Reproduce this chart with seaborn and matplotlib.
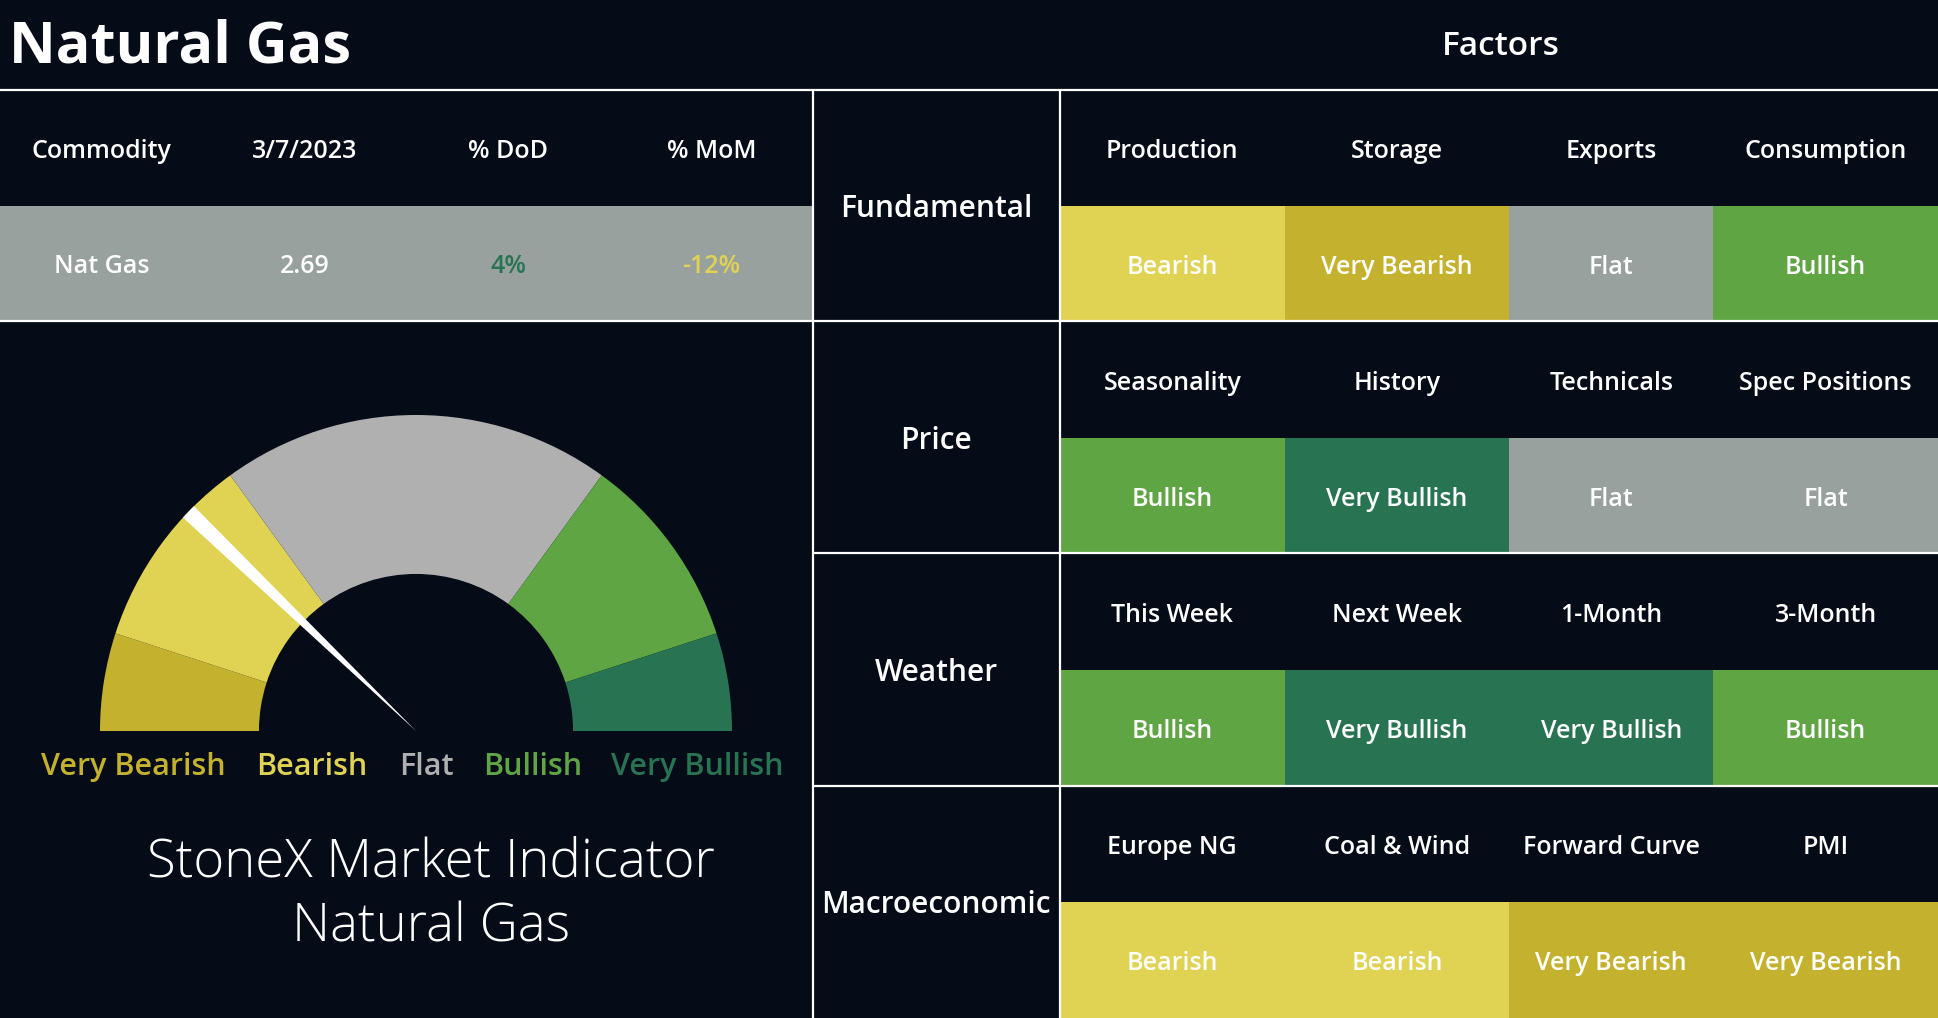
import numpy as np
import matplotlib.pyplot as plt
from matplotlib.colors import ListedColormap
import seaborn as sns

# ---- data ----
commodity_cols = ['Commodity', '3/7/2023', '% DoD', '% MoM']
commodity_vals = ['Nat Gas', '2.69', '4%', '-12%']

factor_groups = ['Fundamental', 'Price', 'Weather', 'Macroeconomic']
factor_names = [
    ['Production', 'Storage', 'Exports', 'Consumption'],
    ['Seasonality', 'History', 'Technicals', 'Spec Positions'],
    ['This Week', 'Next Week', '1-Month', '3-Month'],
    ['Europe NG', 'Coal & Wind', 'Forward Curve', 'PMI'],
]
factor_calls = [
    ['Bearish', 'Very Bearish', 'Flat', 'Bullish'],
    ['Bullish', 'Very Bullish', 'Flat', 'Flat'],
    ['Bullish', 'Very Bullish', 'Very Bullish', 'Bullish'],
    ['Bearish', 'Bearish', 'Very Bearish', 'Very Bearish'],
]

levels = ['Very Bearish', 'Bearish', 'Flat', 'Bullish', 'Very Bullish']
gauge_share = [10, 20, 40, 20, 10]   # upper half of the dial = 100
needle_pos = 24.4                    # 0..100 from the very bearish end
needle_width = 1.6

# ---- style ----
bg = '#050c18'
level_colors = ['#c4b22e', '#e0d354', '#98a19e', '#5fa544', '#287352']
gauge_colors = ['#c4b22e', '#e0d354', '#b0b0b0', '#5fa544', '#287352']
value_colors = ['white', 'white', '#287352', '#e0d354']
col_span = [11, 11, 10, 11]   # relative widths of the factor columns

sns.set_theme(style='dark')
plt.rcParams['font.family'] = ['Open Sans', 'DejaVu Sans']

W, H = 1938, 1018
fig = plt.figure(figsize=(W / 100, H / 100), dpi=100, facecolor=bg)


def box(x0, y0, x1, y1):
    # pixel box (top-left origin) -> figure fraction rect
    return [x0 / W, (H - y1) / H, (x1 - x0) / W, (y1 - y0) / H]


cell_font = dict(color='white', fontsize=18, fontweight='semibold', ha='center', va='center')
dy = 0.03   # small downward nudge of text inside cells (row units)

# factors grid: header row (empty) + call row for every group
code = {lv: i for i, lv in enumerate(levels)}
grid = np.full((8, 4), np.nan)
for i, calls in enumerate(factor_calls):
    for j, c in enumerate(calls):
        grid[2 * i + 1, j] = code[c]
grid = np.repeat(grid, col_span, axis=1)
edges = np.concatenate([[0], np.cumsum(col_span)])
centers = (edges[:-1] + edges[1:]) / 2

ax_f = fig.add_axes(box(1060, 90, W, H))
ax_f.set_facecolor(bg)
sns.heatmap(grid, ax=ax_f, cmap=ListedColormap(level_colors), vmin=-0.5, vmax=4.5,
            cbar=False, linewidths=0)
ax_f.set_xticks([])
ax_f.set_yticks([])
for i in range(len(factor_groups)):
    for j in range(4):
        ax_f.text(centers[j], 2 * i + 0.5 + dy, factor_names[i][j], **cell_font)
        ax_f.text(centers[j], 2 * i + 1.5 + dy, factor_calls[i][j], **cell_font)

# commodity row
ax_c = fig.add_axes(box(0, 206, 813, 321))
sns.heatmap(np.full((1, 4), code['Flat']), ax=ax_c, cmap=ListedColormap(level_colors),
            vmin=-0.5, vmax=4.5, cbar=False, linewidths=0)
ax_c.set_xticks([])
ax_c.set_yticks([])
for j, v in enumerate(commodity_vals):
    ax_c.text(j + 0.5, 0.5 + dy, v, **{**cell_font, 'color': value_colors[j]})

# gauge
ax_g = fig.add_axes(box(416 - 320, 731 - 320, 416 + 320, 731 + 320))
ax_g.set_facecolor('none')
R = 316 / 320
ax_g.pie(gauge_share + [sum(gauge_share)], colors=gauge_colors + ['none'],
         startangle=180, counterclock=False, radius=R,
         wedgeprops=dict(width=R * 0.503, linewidth=0))
rest = 2 * sum(gauge_share) - needle_pos - needle_width / 2
ax_g.pie([needle_pos - needle_width / 2, needle_width, rest],
         colors=['none', 'white', 'none'], startangle=180, counterclock=False,
         radius=R, wedgeprops=dict(linewidth=0))
ax_g.set_xlim(-1, 1)
ax_g.set_ylim(-1, 1)
ax_g.axis('off')

# overlay: frame lines and free text
ov = fig.add_axes([0, 0, 1, 1])
ov.set_facecolor('none')
ov.set_xlim(0, W)
ov.set_ylim(H, 0)
ov.axis('off')

lw = 1.6
ov.hlines(90, 0, W, color='white', lw=lw)
ov.hlines(321, 0, 813, color='white', lw=lw)
ov.hlines([321, 553, 786], 813, W, color='white', lw=lw)
ov.vlines([813, 1060], 90, H, color='white', lw=lw)

ov.text(9, 47, 'Natural Gas', ha='left', va='center', color='white',
        fontsize=41.5, fontweight='bold')
ov.text(1501, 46, 'Factors', ha='center', va='center', color='white',
        fontsize=24, fontweight='semibold')

for j, c in enumerate(commodity_cols):
    ov.text(101.6 + 203.25 * j, 151, c, **cell_font)

for i, g in enumerate(factor_groups):
    ov.text(936, 209 + 232 * i, g, ha='center', va='center', color='white',
            fontsize=21.5, fontweight='semibold')

label_x = [133, 312, 426, 533, 697]
for lv, x, col in zip(levels, label_x, gauge_colors):
    ov.text(x, 767, lv, ha='center', va='center', color=col,
            fontsize=22, fontweight='semibold')

ov.text(431, 863, 'StoneX Market Indicator', ha='center', va='center',
        color='white', fontsize=38, fontweight='light')
ov.text(431, 928, 'Natural Gas', ha='center', va='center',
        color='white', fontsize=38, fontweight='light')

fig.savefig('out.png', dpi=100, facecolor=bg)
